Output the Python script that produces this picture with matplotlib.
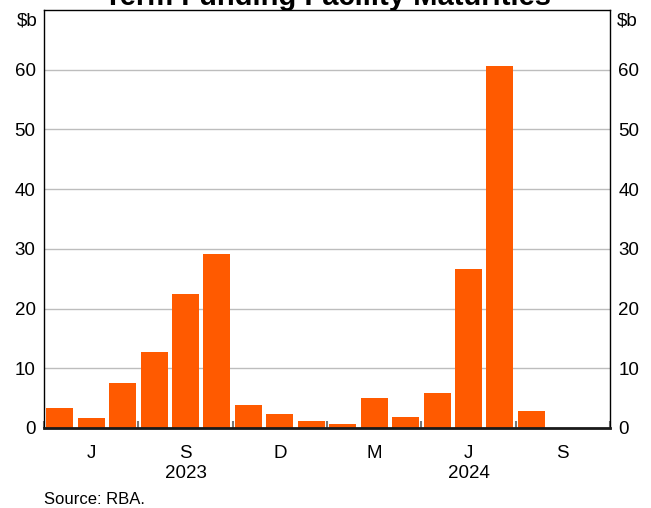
import matplotlib.pyplot as plt

plt.rcParams['font.family'] = ['Liberation Sans', 'DejaVu Sans']

# monthly maturities, Apr 2023 .. Sep 2024
months = ['2023-04', '2023-05', '2023-06', '2023-07', '2023-08', '2023-09',
          '2023-10', '2023-11', '2023-12', '2024-01', '2024-02', '2024-03',
          '2024-04', '2024-05', '2024-06', '2024-07', '2024-08', '2024-09']
values = [3.3, 1.6, 7.6, 12.8, 22.4, 29.1, 3.9, 2.4, 1.1, 0.75, 5.1, 1.9,
          5.8, 26.7, 60.7, 2.9, 0, 0]
quarter_labels = ['J', 'S', 'D', 'M', 'J', 'S']
years = ['2023', '2024']
yticks = [0, 10, 20, 30, 40, 50, 60]

bar_color = '#ff5a00'

fig = plt.figure(figsize=(6.51, 5.08), dpi=100)
ax = fig.add_axes([44 / 651, 1 - 428 / 508, 566 / 651, 418 / 508])

x = list(range(len(months)))
ax.bar(x, values, width=0.86, color=bar_color, zorder=3)

ax.set_xlim(-0.5, len(months) - 0.5)
ax.set_ylim(0, 70)

# gridlines
ax.set_yticks(yticks)
ax.grid(axis='y', color='#bdbdbd', linewidth=1, zorder=0)
ax.tick_params(axis='y', length=0, labelsize=13.5, pad=6, right=True, labelright=True)

# quarter labels in the middle of each quarter, small ticks on boundaries
qcenters = [i * 3 + 1 for i in range(len(quarter_labels))]
ax.set_xticks(qcenters)
ax.set_xticklabels(quarter_labels)
ax.tick_params(axis='x', length=0, labelsize=13.5, pad=12)
ax.set_xticks([i * 3 - 0.5 for i in range(len(quarter_labels) + 1)], minor=True)
ax.tick_params(axis='x', which='minor', direction='in', length=5, width=1.5,
               color='#777777')

# year labels under the quarter labels
for yr, q in zip(years, [qcenters[1], qcenters[4]]):
    ax.text(q, -0.110, yr, transform=ax.get_xaxis_transform(), ha='center',
            va='center', fontsize=13.5)

for s in ['left', 'right', 'top']:
    ax.spines[s].set_linewidth(1)
    ax.spines[s].set_color('black')
ax.spines['bottom'].set_linewidth(2)
ax.spines['bottom'].set_color('#1a1a1a')
ax.spines['bottom'].set_zorder(4)

# units
ax.text(-0.012, 0.973, '$b', transform=ax.transAxes, ha='right', va='center', fontsize=13.5)
ax.text(1.012, 0.973, '$b', transform=ax.transAxes, ha='left', va='center', fontsize=13.5)

fig.text(0.503, 0.990, 'Term Funding Facility Maturities', ha='center', va='baseline',
         fontsize=21, fontweight='bold')
fig.text(44 / 651, 1 - 500 / 508, 'Source: RBA.', ha='left', va='center', fontsize=12)

fig.savefig('out.png', dpi=100)
